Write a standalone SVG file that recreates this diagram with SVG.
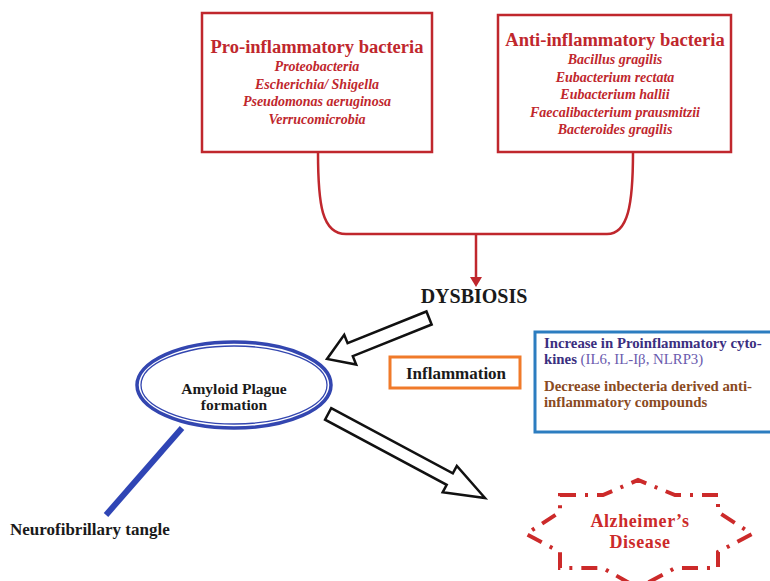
<svg xmlns="http://www.w3.org/2000/svg" width="770" height="581" viewBox="0 0 770 581">
  <style>
    .box-red { fill: #ffffff; stroke: #c0272d; stroke-width: 2.5; }
    .title-red { font-family: "Liberation Serif", serif; font-weight: bold; font-size: 18.5px; fill: #c0272d; text-anchor: middle; }
    .item-red { font-family: "Liberation Serif", serif; font-style: italic; font-weight: bold; font-size: 14px; fill: #c0272d; text-anchor: middle; }
    .label { font-family: "Liberation Serif", serif; font-weight: bold; fill: #1a1a1a; }
    .hollow { fill: #ffffff; stroke: #111111; stroke-width: 2.5; stroke-linejoin: miter; }
    .red-line { fill: none; stroke: #c0272d; stroke-width: 2.5; }
    .info { font-family: "Liberation Serif", serif; font-size: 14.8px; }
    .ad { font-family: "Liberation Serif", serif; font-weight: bold; font-size: 18px; letter-spacing: 0.6px; fill: #cc2a2a; text-anchor: middle; }
  </style>

  <rect width="770" height="581" fill="#ffffff"/>

  <!-- connectors -->
  <g id="connectors">
    <path class="red-line" d="M318,152 C318,205 322,234 346,234 L607,234 C628,234 633,205 633,152"/>
    <path class="red-line" d="M476,234 L476,278"/>
    <path d="M470,277 L482,277 L476,287 Z" fill="#c0272d"/>
    <!-- hollow block arrows, drawn along +x with the tip at the origin -->
    <polygon class="hollow" transform="translate(327,359) rotate(158.1)" points="-110,-7 -25,-7 -25,-16 0,0 -25,16 -25,7 -110,7"/>
    <polygon class="hollow" transform="translate(485,498) rotate(28.2)" points="-178,-6.5 -40,-6.5 -40,-15 0,0 -40,15 -40,6.5 -178,6.5"/>
    <line x1="182" y1="428" x2="106" y2="515" stroke="#2f45b5" stroke-width="6"/>
  </g>

  <g id="pro-inflammatory">
    <rect class="box-red" x="202" y="13" width="230" height="139"/>
    <text class="title-red" x="317" y="53">Pro-inflammatory bacteria</text>
    <text class="item-red" x="317" y="71">Proteobacteria</text>
    <text class="item-red" x="317" y="89">Escherichia/ Shigella</text>
    <text class="item-red" x="317" y="106">Pseudomonas aeruginosa</text>
    <text class="item-red" x="317" y="124">Verrucomicrobia</text>
  </g>

  <g id="anti-inflammatory">
    <rect class="box-red" x="498" y="15" width="233" height="137"/>
    <text class="title-red" x="615" y="46">Anti-inflammatory bacteria</text>
    <text class="item-red" x="615" y="64">Bacillus gragilis</text>
    <text class="item-red" x="615" y="82">Eubacterium rectata</text>
    <text class="item-red" x="615" y="99">Eubacterium hallii</text>
    <text class="item-red" x="615" y="117">Faecalibacterium prausmitzii</text>
    <text class="item-red" x="615" y="134">Bacteroides gragilis</text>
  </g>

  <g id="dysbiosis">
    <text class="label" x="474" y="303" font-size="20" text-anchor="middle">DYSBIOSIS</text>
  </g>

  <g id="amyloid">
    <ellipse cx="234" cy="385" rx="97" ry="43" fill="#ffffff" stroke="#3346b0" stroke-width="3.5"/>
    <ellipse cx="234" cy="385" rx="93" ry="39" fill="none" stroke="#3346b0" stroke-width="1.3"/>
    <text class="label" x="234" y="394" font-size="15.5" text-anchor="middle">Amyloid Plague</text>
    <text class="label" x="234" y="410" font-size="15.5" text-anchor="middle">formation</text>
  </g>

  <g id="neurofibrillary">
    <text class="label" x="10" y="535" font-size="17">Neurofibrillary tangle</text>
  </g>

  <g id="inflammation">
    <rect x="390" y="357" width="130" height="31" fill="#ffffff" stroke="#f07a2a" stroke-width="3"/>
    <text class="label" x="456" y="379" font-size="17" text-anchor="middle">Inflammation</text>
  </g>

  <g id="effects">
    <rect x="535" y="332" width="245" height="100" fill="#ffffff" stroke="#2c7dc0" stroke-width="3"/>
    <text class="info" x="544" y="348" font-weight="bold" fill="#3b2f7f">Increase in Proinflammatory cyto-</text>
    <text class="info" x="544" y="364"><tspan font-weight="bold" fill="#3b2f7f">kines </tspan><tspan fill="#6a5aae">(IL6, IL-Iβ, NLRP3)</tspan></text>
    <text class="info" x="544" y="391" font-weight="bold" fill="#8a4b1f">Decrease inbecteria derived anti-</text>
    <text class="info" x="544" y="407" font-weight="bold" fill="#8a4b1f">inflammatory compounds</text>
  </g>

  <g id="alzheimers">
    <path d="M560,495 L603,495 L638,480 L675,495 L718,495 L718,512 L752,534 L718,552 L718,568 L675,568 L638,588 L603,568 L560,568 L560,552 L526,534 L560,512 Z" fill="none" stroke="#cc2a2a" stroke-width="4" stroke-dasharray="16,9,3,9"/>
    <text class="ad" x="640" y="527">Alzheimer’s</text>
    <text class="ad" x="640" y="548">Disease</text>
  </g>
</svg>
